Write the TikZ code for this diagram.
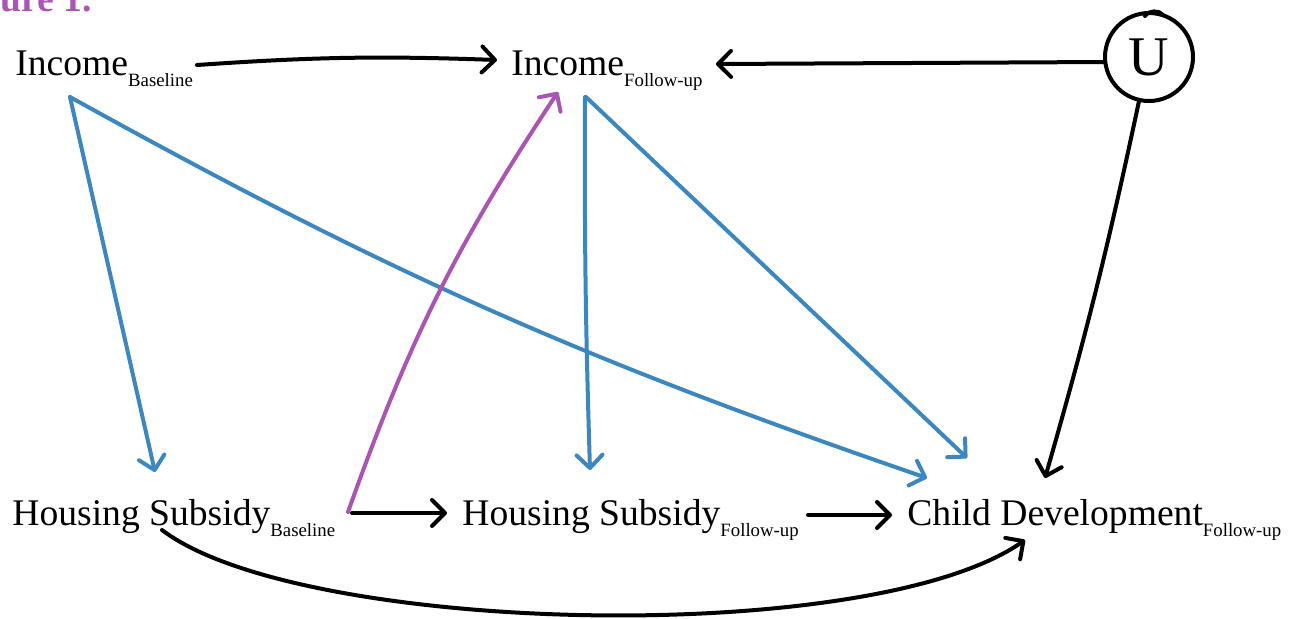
\documentclass[tikz,border=0pt]{standalone}
\usepackage{fontspec}
\setmainfont{Liberation Serif}
\usetikzlibrary{arrows.meta,calc}
\definecolor{cblue}{RGB}{60,135,192}
\definecolor{cpurple}{RGB}{170,85,180}
\newcommand{\mainsz}{\fontsize{18.8}{22}\selectfont}
\newcommand{\lbl}[2]{{\mainsz #1}\raisebox{-5.5pt}{\fontsize{9.4}{11}\selectfont #2}}
\begin{document}
\begin{tikzpicture}[x=0.5pt,y=-0.5pt,
  lab/.style={inner sep=0pt,anchor=base west},
  conn/.style={line width=2pt,line cap=round,line join=round,
    -{Straight Barb[length=6.5pt,width=13pt,line cap=round,line join=round]}},
  blk/.style={conn,black},
  blu/.style={conn,cblue},
  pur/.style={conn,cpurple}]
\useasboundingbox (0,0) rectangle (1301,618);
\node[inner sep=0pt,anchor=base east,text=cpurple,font=\bfseries\mainsz] (fig) at (92,11) {Figure 1.};
\node[lab] (ib) at (15,75) {\lbl{Income}{Baseline}};
\node[lab] (if) at (511,75) {\lbl{Income}{Follow-up}};
\node[lab] (hb) at (12,525) {\lbl{Housing Subsidy}{Baseline}};
\node[lab] (hf) at (462,525) {\lbl{Housing Subsidy}{Follow-up}};
\node[lab] (cd) at (907,525) {\lbl{Child Development}{Follow-up}};
\node[draw,circle,line width=2pt,minimum size=44pt,inner sep=0pt,font=\fontsize{28}{30}\selectfont] (u) at (1149,57) {U};
\draw[line width=2pt,line cap=round] ($(u.center)+(-4,-41)$) .. controls ($(u.center)+(0,-47)$) and ($(u.center)+(10,-47)$) .. ($(u.center)+(14,-42)$);
% black connectors
\draw[blk] ($(ib.base west)+(182,-10)$) to[bend left=3] ($(if.base west)+(-14,-15)$);
\draw[blk] ($(u.center)+(-45,5)$) -- ($(if.base west)+(205,-11)$);
\draw[blk] ($(u.center)+(-10,44)$) to[bend left=2] ($(cd.base west)+(138,-47)$);
\draw[blk] ($(hb.base west)+(340,-12)$) -- ($(hf.base west)+(-15,-12)$);
\draw[blk] ($(hf.base west)+(346,-10)$) -- ($(cd.base west)+(-15,-10)$);
\draw[blk] ($(hb.base west)+(150,5)$) .. controls (300,635) and (870,648) .. ($(cd.base west)+(118,15)$);
% blue connectors
\draw[blu] ($(ib.base west)+(55,22)$) -- ($(hb.base west)+(143,-53)$);
\draw[blu] ($(ib.base west)+(55,22)$) to[bend right=5] ($(cd.base west)+(20,-47)$);
\draw[blu] ($(if.base west)+(74,22)$) to[bend right=1] ($(hf.base west)+(128,-55)$);
\draw[blu] ($(if.base west)+(75,22)$) -- ($(cd.base west)+(60,-67)$);
% purple connector
\draw[pur] ($(hb.base west)+(336,-13)$) to[bend left=7] ($(if.base west)+(47,17)$);
\end{tikzpicture}
\end{document}
